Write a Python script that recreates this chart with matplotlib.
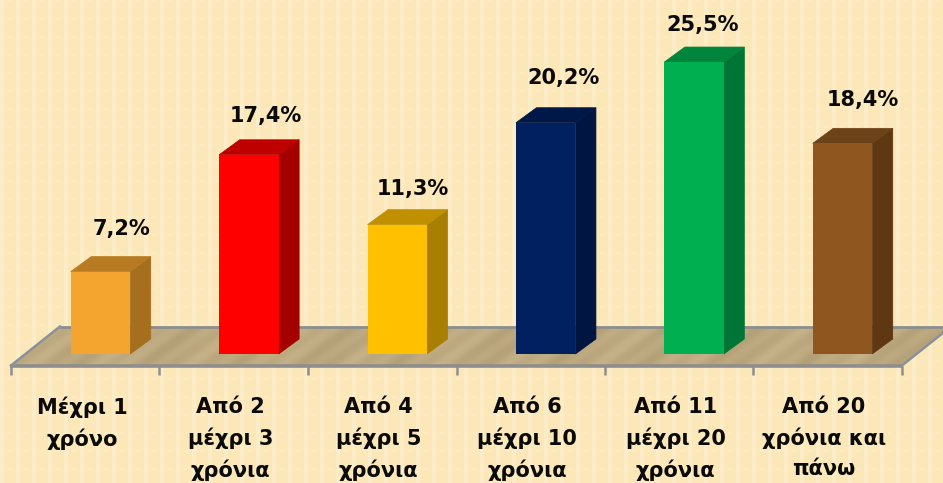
import numpy as np
import matplotlib
matplotlib.use('Agg')
import matplotlib.pyplot as plt
from matplotlib.patches import Polygon

categories = ['Μέχρι 1\nχρόνο', 'Από 2\nμέχρι 3\nχρόνια', 'Από 4\nμέχρι 5\nχρόνια',
              'Από 6\nμέχρι 10\nχρόνια', 'Από 11\nμέχρι 20\nχρόνια', 'Από 20\nχρόνια και\nπάνω']
values = [7.2, 17.4, 11.3, 20.2, 25.5, 18.4]
value_labels = ['7,2%', '17,4%', '11,3%', '20,2%', '25,5%', '18,4%']

front_colors = ['#F4A52F', '#FF0000', '#FFC000', '#002060', '#00B050', '#8F5620']
side_colors = ['#A56F1E', '#A50000', '#A87F00', '#001540', '#007535', '#5E3812']
top_colors = ['#B87B24', '#BE0000', '#C09000', '#001848', '#00853C', '#6C4218']

W, H = 943, 483
plt.rcParams['font.family'] = ['DejaVu Sans']

fig = plt.figure(figsize=(W / 100, H / 100), dpi=100)
ax = fig.add_axes([0, 0, 1, 1])

# scales: 148.4 px per category, 11.45 px per percent, baseline at y=354
px_x, px_y = 148.4, 11.45
ax.set_xlim(-100.5 / px_x, (W - 100.5) / px_x)
ax.set_ylim(-(H - 354) / px_y, 354 / px_y)
ax.axis('off')

# background texture, soft lighter columns with short cross dashes
yy, xx = np.mgrid[0:H, 0:W]
cols = (xx % 16 < 4) * 0.8
rows = ((yy % 18 < 2) & (xx % 8 < 5)) * 0.5
glow = np.maximum(cols, rows)[..., None]
bg = np.array([251, 231, 184]) / 255 + glow * (np.array([253, 238, 204]) - np.array([251, 231, 184])) / 255
ext = [*ax.get_xlim(), *ax.get_ylim()]
ax.imshow(bg, extent=ext, aspect='auto', zorder=0, interpolation='bilinear')

bar_w = 59.5 / px_x
dx, dy = 20.5 / px_x, 15 / px_y
floor_dx, floor_dy = 49 / px_x, 39 / px_y
x0 = (11 - 100.5) / px_x
x1 = (902 - 100.5) / px_x
y_floor = -11.5 / px_y

# floor with wood-like streaks
floor_pts = [(x0, y_floor), (x1, y_floor), (x1 + floor_dx, y_floor + floor_dy), (x0 + floor_dx, y_floor + floor_dy)]
wood = 0.5 + 0.25 * np.sin((xx + 1.4 * yy) / 5.0) + 0.25 * np.sin((xx + 1.1 * yy) / 13.0)
base = np.array([189, 169, 128]) / 255
wood_img = base[None, None, :] + (wood[..., None] - 0.5) * 0.07
im = ax.imshow(np.clip(wood_img, 0, 1), extent=ext, aspect='auto', zorder=1, interpolation='bilinear')
floor = Polygon(floor_pts, closed=True, fc='none', ec='none', transform=ax.transData)
ax.add_patch(floor)
im.set_clip_path(floor)

# floor edges and ticks
grey = '#8E8E8E'
ax.plot([x0 - 1 / px_x, x1 + 1 / px_x], [y_floor, y_floor], color=grey, lw=2.6, zorder=2, solid_capstyle='butt')
ax.plot([x0 + floor_dx, ax.get_xlim()[1]], [y_floor + floor_dy] * 2, color=grey, lw=2, zorder=2)
ax.plot([x0, x0 + floor_dx], [y_floor, y_floor + floor_dy], color='#8A919C', lw=1.8, zorder=2)
ax.plot([x1, x1 + floor_dx], [y_floor, y_floor + floor_dy], color='#8A919C', lw=1.8, zorder=2)
tick_x = x0 + np.arange(7) * (x1 - x0) / 6
for t in tick_x:
    ax.plot([t, t], [y_floor, y_floor - 9 / px_y], color=grey, lw=1.8, zorder=2, solid_capstyle='butt')

# pixel nudges for the value labels, relative to the bar top
label_dx = [21, 17, 16, 18, 9, 20]
label_dy = [43, 39, 36, 45, 37, 43]

for i, v in enumerate(values):
    l, r = i - bar_w / 2, i + bar_w / 2
    ax.add_patch(Polygon([(r, 0), (r + dx, dy), (r + dx, v + dy), (r, v)], fc=side_colors[i], ec=side_colors[i], lw=0.5, zorder=3))
    ax.add_patch(Polygon([(l, v), (r, v), (r + dx, v + dy), (l + dx, v + dy)], fc=top_colors[i], ec=top_colors[i], lw=0.5, zorder=3))
    ax.bar(i, v, width=bar_w, color=front_colors[i], zorder=4)
    ax.annotate(value_labels[i], (i, v), xytext=(label_dx[i] * 0.72, label_dy[i] * 0.72),
                textcoords='offset points', ha='center', va='center',
                fontsize=15, fontweight='bold', color='#0A0A0A', zorder=5)

# category labels sit left of the bar centres
for i, c in enumerate(categories):
    ax.annotate(c, (i, y_floor), xytext=(-18.5 * 0.72, -31.5 * 0.72), textcoords='offset points',
                ha='center', va='top', fontsize=15, fontweight='bold', color='#0A0A0A',
                linespacing=1.6, zorder=5)

fig.savefig('out.png', dpi=100)
